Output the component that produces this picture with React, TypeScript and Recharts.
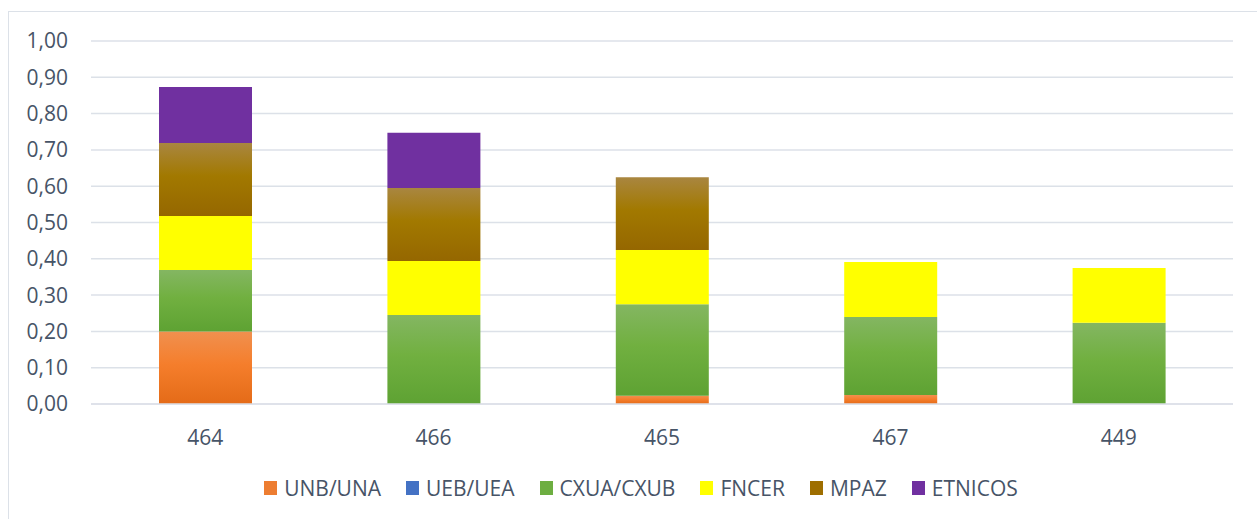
import React from 'react';
import { BarChart, Bar, XAxis, YAxis, CartesianGrid, Legend } from 'recharts';

const categories = ['464', '466', '465', '467', '449'];
const unbUna = [0.2, 0, 0.023, 0.025, 0];
const uebUea = [0, 0, 0, 0, 0];
const cxuaCxub = [0.169, 0.245, 0.252, 0.215, 0.224];
const fncer = [0.149, 0.149, 0.149, 0.151, 0.151];
const mpaz = [0.201, 0.201, 0.201, 0, 0];
const etnicos = [0.154, 0.152, 0, 0, 0];
const seriesNames = ['UNB/UNA', 'UEB/UEA', 'CXUA/CXUB', 'FNCER', 'MPAZ', 'ETNICOS'];
const yTicks = [0, 0.1, 0.2, 0.3, 0.4, 0.5, 0.6, 0.7, 0.8, 0.9, 1.0];

const data = categories.map((c, i) => ({
  name: c,
  'UNB/UNA': unbUna[i],
  'UEB/UEA': uebUea[i],
  'CXUA/CXUB': cxuaCxub[i],
  FNCER: fncer[i],
  MPAZ: mpaz[i],
  ETNICOS: etnicos[i],
}));

const FONT = '"Open Sans", "Noto Sans", sans-serif';
const TEXT = '#475467';

const legendColors: Record<string, string> = {
  'UNB/UNA': '#ED7D31',
  'UEB/UEA': '#4472C4',
  'CXUA/CXUB': '#6DAE41',
  FNCER: '#FFFF00',
  MPAZ: '#9E6E00',
  ETNICOS: '#7030A0',
};

const renderLegend = (props: any) => {
  const payload = [...(props.payload || [])].sort(
    (a: any, b: any) => seriesNames.indexOf(a.value) - seriesNames.indexOf(b.value)
  );
  return (
    <div style={{ display: 'flex', justifyContent: 'center', alignItems: 'center', fontFamily: FONT, fontSize: 21, color: TEXT }}>
      {payload.map((p: any, i: number) => (
        <div key={i} style={{ display: 'flex', alignItems: 'center', marginRight: i < payload.length - 1 ? 25 : 0 }}>
          <span style={{ display: 'inline-block', width: 13, height: 14, background: legendColors[p.value] || p.color, marginRight: 7 }} />
          <span style={{ lineHeight: '22px' }}>{p.value}</span>
        </div>
      ))}
    </div>
  );
};

export default function App() {
  return (
    <div style={{ position: 'absolute', left: 0, top: 0, width: 1257, height: 519, overflow: 'hidden', background: '#fff' }}>
      <div style={{ position: 'absolute', left: 8, top: 11, width: 1400, height: 700, border: '1.5px solid #DCE1E8', boxSizing: 'border-box' }} />
      <div style={{ position: 'absolute', left: 0, top: 0 }}>
        <BarChart width={1257} height={519} data={data} margin={{ top: 41, right: 24, left: 0, bottom: 85 }} barSize={93}>
          <defs>
            <linearGradient id="gOrange" x1="0" y1="0" x2="0" y2="1">
              <stop offset="0%" stopColor="#F0904F" />
              <stop offset="45%" stopColor="#F57E2C" />
              <stop offset="100%" stopColor="#E46B18" />
            </linearGradient>
            <linearGradient id="gGreen" x1="0" y1="0" x2="0" y2="1">
              <stop offset="0%" stopColor="#84B662" />
              <stop offset="45%" stopColor="#71B040" />
              <stop offset="100%" stopColor="#5EA233" />
            </linearGradient>
            <linearGradient id="gBrown" x1="0" y1="0" x2="0" y2="1">
              <stop offset="0%" stopColor="#A98640" />
              <stop offset="45%" stopColor="#A27900" />
              <stop offset="100%" stopColor="#956700" />
            </linearGradient>
          </defs>
          <CartesianGrid vertical={false} stroke="#DCE1E8" strokeWidth={1.5} />
          <XAxis
            dataKey="name"
            height={30}
            axisLine={{ stroke: '#DCE1E8', strokeWidth: 1.5 }}
            tickLine={false}
            tickMargin={20}
            tick={{ fill: TEXT, fontSize: 21, fontFamily: FONT }}
          />
          <YAxis
            width={91}
            domain={[0, 1]}
            ticks={yTicks}
            interval={0}
            axisLine={false}
            tickLine={false}
            tickMargin={17}
            tickFormatter={(v: number) => v.toFixed(2).replace('.', ',')}
            tick={{ fill: TEXT, fontSize: 21, fontFamily: FONT }}
          />
          <Legend
            content={renderLegend}
            verticalAlign="bottom"
            wrapperStyle={{ position: 'absolute', left: 0, top: 477, width: 1282, height: 0, overflow: 'visible' }}
          />
          <Bar dataKey="UNB/UNA" stackId="a" fill="url(#gOrange)" isAnimationActive={false} />
          <Bar dataKey="UEB/UEA" stackId="a" fill="#4472C4" isAnimationActive={false} />
          <Bar dataKey="CXUA/CXUB" stackId="a" fill="url(#gGreen)" isAnimationActive={false} />
          <Bar dataKey="FNCER" stackId="a" fill="#FFFF00" isAnimationActive={false} />
          <Bar dataKey="MPAZ" stackId="a" fill="url(#gBrown)" isAnimationActive={false} />
          <Bar dataKey="ETNICOS" stackId="a" fill="#7030A0" isAnimationActive={false} />
        </BarChart>
      </div>
    </div>
  );
}
